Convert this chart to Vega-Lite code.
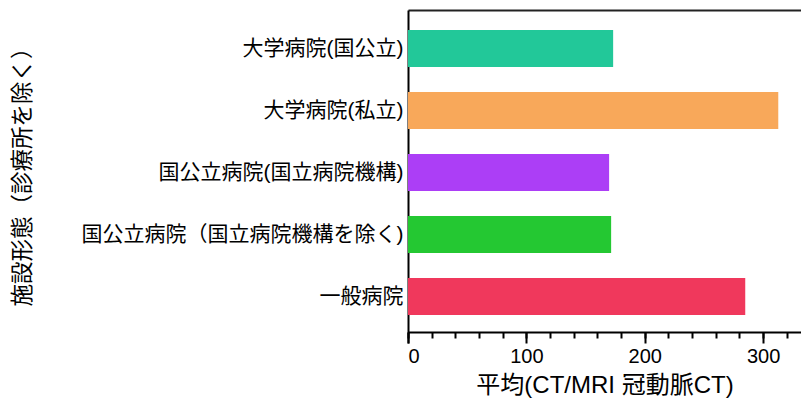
{
  "$schema": "https://vega.github.io/schema/vega-lite/v6.json",
  "width": 393,
  "height": 333,
  "autosize": {"type": "none"},
  "padding": {"left": 408, "top": 10, "right": 0, "bottom": 60},
  "config": {"view": {"stroke": null}, "font": "Noto Sans CJK JP"},
  "data": {
    "values": [
      {"facility": "大学病院(国公立)", "mean": 173.3},
      {"facility": "大学病院(私立)", "mean": 312.8},
      {"facility": "国公立病院(国立病院機構)", "mean": 169.9},
      {"facility": "国公立病院（国立病院機構を除く)", "mean": 171.6},
      {"facility": "一般病院", "mean": 284.9}
    ]
  },
  "layer": [
    {
      "mark": {"type": "bar"},
      "encoding": {
        "y": {
          "field": "facility", "type": "nominal", "sort": null,
          "scale": {"paddingInner": 0.403, "paddingOuter": 0.387, "align": 0.417},
          "axis": {
            "orient": "left", "domain": true, "domainColor": "#000000", "domainWidth": 2,
            "ticks": false, "labelPadding": 5, "labelFontSize": 21, "labelColor": "#000000",
            "labelFont": "Liberation Sans, Noto Sans CJK JP",
            "labelLimit": 0, "title": "施設形態（診療所を除く）", "titleFontSize": 22.5,
            "titleFontWeight": "normal", "titleColor": "#000000",
            "titleX": -386, "titleY": 161, "titleAngle": -90, "titleAlign": "center", "titleBaseline": "middle"
          }
        },
        "x": {
          "field": "mean", "type": "quantitative",
          "scale": {"domain": [0, 332], "nice": false, "zero": true},
          "axis": {
            "orient": "bottom", "values": [0, 100, 200, 300], "offset": -11,
            "grid": false, "domain": true, "domainColor": "#000000", "domainWidth": 2,
            "tickSize": 11, "tickWidth": 2, "tickColor": "#000000",
            "labelFont": "Liberation Sans", "labelFontSize": 20, "labelColor": "#000000", "labelPadding": 3,
            "title": "平均(CT/MRI 冠動脈CT)", "titleFont": "Liberation Sans, Noto Sans CJK JP",
            "titleFontSize": 24, "titleFontWeight": "normal",
            "titleColor": "#000000", "titlePadding": 7
          }
        },
        "color": {
          "field": "facility", "type": "nominal",
          "scale": {
            "domain": ["大学病院(国公立)", "大学病院(私立)", "国公立病院(国立病院機構)", "国公立病院（国立病院機構を除く)", "一般病院"],
            "range": ["#22C899", "#F8A85A", "#AC3EF6", "#24C832", "#F0385C"]
          },
          "legend": null
        }
      }
    },
    {
      "mark": {"type": "bar", "opacity": 0},
      "encoding": {
        "x": {
          "field": "mean", "type": "quantitative",
          "axis": {
            "orient": "bottom", "values": [0, 20, 40, 60, 80, 100, 120, 140, 160, 180, 200, 220, 240, 260, 280, 300, 320],
            "offset": -11, "grid": false, "domain": false, "labels": false, "title": null,
            "tickSize": 6, "tickWidth": 2, "tickColor": "#000000"
          }
        }
      }
    },
    {
      "mark": {"type": "bar", "opacity": 0},
      "encoding": {
        "x": {
          "field": "mean", "type": "quantitative",
          "axis": {
            "orient": "top", "grid": false, "domain": true, "domainColor": "#222222", "domainWidth": 2,
            "ticks": false, "labels": false, "title": null
          }
        }
      }
    }
  ],
  "resolve": {"axis": {"x": "independent"}}
}
